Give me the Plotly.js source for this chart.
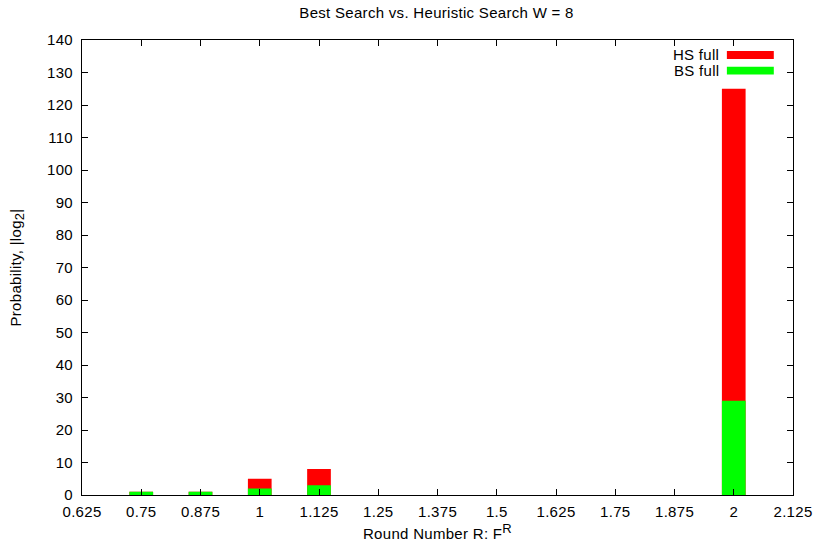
<!DOCTYPE html>
<html>
<head>
<meta charset="utf-8">
<script src="https://cdn.plot.ly/plotly-3.0.1.min.js"></script>
<style>html,body{margin:0;padding:0;background:#fff;}#chart{width:816px;height:545px;}
#chart text{letter-spacing:0.3px;}</style>
</head>
<body>
<div id="chart"></div>
<script>
var rounds = [0.75, 0.875, 1, 1.125, 2];
var hsFull = [1, 1, 5, 8, 125];
var bsFull = [1, 1, 2, 3, 29];
var xTickVals = [0.625, 0.75, 0.875, 1, 1.125, 1.25, 1.375, 1.5, 1.625, 1.75, 1.875, 2, 2.125];
var xTickText = ["0.625", "0.75", "0.875", "1", "1.125", "1.25", "1.375", "1.5", "1.625", "1.75", "1.875", "2", "2.125"];
var yTickVals = [0, 10, 20, 30, 40, 50, 60, 70, 80, 90, 100, 110, 120, 130, 140];

var traces = [
  {type: 'bar', x: rounds, y: hsFull, name: 'HS full', width: 0.05,
   marker: {color: '#ff0000', line: {width: 0}}, showlegend: false},
  {type: 'bar', x: rounds, y: bsFull, name: 'BS full', width: 0.05,
   marker: {color: '#00ff00', line: {width: 0}}, showlegend: false}
];

var font = {family: 'Liberation Sans, Arial, sans-serif', size: 15, color: '#000'};
var layout = {
  width: 816, height: 545,
  margin: {l: 82, r: 23, t: 40, b: 50},
  paper_bgcolor: '#fff', plot_bgcolor: '#fff',
  barmode: 'overlay',
  font: font,
  title: {text: 'Best Search vs. Heuristic Search W = 8', x: 0.535, xanchor: 'center', y: 0.976, yanchor: 'middle', font: font},
  xaxis: {
    range: [0.625, 2.125], tickvals: xTickVals, ticktext: xTickText,
    ticks: 'inside', ticklen: 6, tickcolor: '#000', showline: true, linecolor: '#000', linewidth: 1,
    mirror: 'ticks', showgrid: false, zeroline: false, ticklabelstandoff: 3,
    title: {text: 'Round Number R: F<sup><span style="font-size:13px">R</span></sup>', font: font, standoff: 9}
  },
  yaxis: {
    range: [0, 140], tickvals: yTickVals,
    ticks: 'inside', ticklen: 6, tickcolor: '#000', showline: true, linecolor: '#000', linewidth: 1,
    mirror: 'ticks', showgrid: false, zeroline: false, ticklabelstandoff: 5,
    title: {text: 'Probability, |log<sub><span style="font-size:13px">2</span></sub>|', font: font, standoff: 22}
  },
  shapes: [
    {type: 'rect', xref: 'paper', yref: 'paper', x0: 0.907, x1: 0.973, y0: 0.958, y1: 0.976, fillcolor: '#ff0000', line: {width: 0}},
    {type: 'rect', xref: 'paper', yref: 'paper', x0: 0.907, x1: 0.973, y0: 0.924, y1: 0.941, fillcolor: '#00ff00', line: {width: 0}}
  ],
  annotations: [
    {xref: 'paper', yref: 'paper', x: 0.8945, y: 0.968, text: 'HS full', showarrow: false, xanchor: 'right', yanchor: 'middle', xshift: 2, font: font},
    {xref: 'paper', yref: 'paper', x: 0.8945, y: 0.932, text: 'BS full', showarrow: false, xanchor: 'right', yanchor: 'middle', xshift: 2, font: font}
  ]
};
Plotly.newPlot('chart', traces, layout, {displayModeBar: false, staticPlot: true});
</script>
</body>
</html>
